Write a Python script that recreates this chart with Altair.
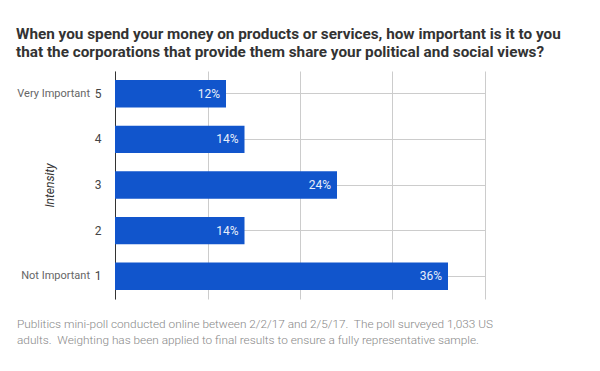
import altair as alt
import pandas as pd

intensity = [5, 4, 3, 2, 1]
share = [0.12, 0.14, 0.24, 0.14, 0.36]
side_labels = ["Very Important", "", "", "", "Not Important"]
title_lines = [
    "When you spend your money on products or services, how important is it to you",
    "that the corporations that provide them share your political and social views?",
]
footer_lines = [
    "Publitics mini-poll conducted online between 2/2/17 and 2/5/17.\u00a0 The poll surveyed 1,033 US",
    "adults.\u00a0 Weighting has been applied to final results to ensure a fully representative sample.",
]

df = pd.DataFrame({"intensity": intensity, "share": share, "side": side_labels})
foot = pd.DataFrame({"t": ["\n".join(footer_lines)]})

FONT = "Roboto"
y_enc = alt.Y(
    "intensity:O",
    sort="descending",
    scale=alt.Scale(paddingInner=0.4, paddingOuter=0.2),
    axis=alt.Axis(
        title="Intensity",
        titleFontStyle="italic",
        titleFontWeight="normal",
        titleFontSize=12,
        titleColor="#333",
        titleFont=FONT,
        titlePadding=38,
        labelFont=FONT,
        labelFontSize=12,
        labelColor="#444",
        labelPadding=14,
        ticks=False,
        domainColor="#333",
        grid=True,
        gridColor="#cccccc",
        bandPosition=0.5,
    ),
)

bars = alt.Chart(df).mark_bar(color="#1155cc").encode(
    x=alt.X(
        "share:Q",
        scale=alt.Scale(domain=[0, 0.4]),
        axis=alt.Axis(
            title=None,
            labels=False,
            ticks=False,
            domain=False,
            grid=True,
            gridColor="#cccccc",
            values=[0, 0.1, 0.2, 0.3, 0.4],
        ),
    ),
    y=y_enc,
)

values = alt.Chart(df).mark_text(
    align="right", dx=-6, color="#e8eefa", fontSize=12, font=FONT
).encode(x="share:Q", y=alt.Y("intensity:O", sort="descending"), text=alt.Text("share:Q", format=".0%"))

sides = alt.Chart(df).mark_text(
    align="right", color="#666", fontSize=11, font=FONT
).encode(x=alt.value(-25), y=alt.Y("intensity:O", sort="descending"), text="side:N")

footer = alt.Chart(foot).mark_text(
    align="left", baseline="top", lineBreak="\n", lineHeight=16,
    color="#888", fontSize=11.8, font=FONT, fontWeight=300,
).encode(x=alt.value(-98), y=alt.value(248), text="t:N")

chart = alt.layer(bars, values, sides, footer).properties(
    width=370,
    height=228,
    autosize=alt.AutoSizeParams(type="none"),
    padding={"left": 107, "top": 63, "right": 100, "bottom": 60},
    title=alt.Title(
        text=title_lines,
        anchor="start",
        dx=-1,
        offset=11,
        fontSize=15.3,
        font=FONT,
        fontWeight="bold",
        color="#333",
        lineHeight=18,
    ),
).configure_view(stroke=None)

chart.save("out.html", embed_options={"renderer": "svg", "actions": False})
